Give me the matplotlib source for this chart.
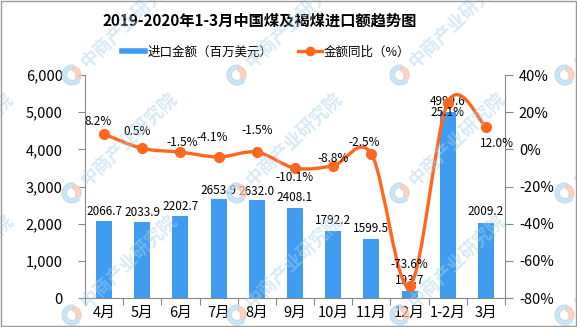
import numpy as np
import matplotlib
matplotlib.use('Agg')
import matplotlib.pyplot as plt
from matplotlib.path import Path
from matplotlib.patches import PathPatch, Wedge, Rectangle
from matplotlib.lines import Line2D
from matplotlib.ticker import FuncFormatter

plt.rcParams['font.family'] = ['Noto Sans CJK SC', 'DejaVu Sans']
plt.rcParams['axes.unicode_minus'] = False

# 数据
months = ['4月', '5月', '6月', '7月', '8月', '9月', '10月', '11月', '12月', '1-2月', '3月']
amount = [2066.7, 2033.9, 2202.7, 2653.9, 2632.0, 2408.1, 1792.2, 1599.5, 193.7, 4999.6, 2009.2]
yoy = [8.2, 0.5, -1.5, -4.1, -1.5, -10.1, -8.8, -2.5, -73.6, 25.1, 12.0]

# 标签偏移（像素）
amount_off = [(0, 3), (0, 3), (0, 3), (0, 2), (0, 2), (0, 4), (0, 4), (0, 4), (0, 4), (0, 4), (0, 5)]
yoy_off = [(-6, 13), (-5, 17), (2, 10), (-6, 19), (0, 22), (0, -9), (0, 7), (-7, 11), (0, 22), (0, -10), (11, -16)]

BLUE = '#3f9cf0'
ORANGE = '#ff671f'
GREY = '#888888'

W, H = 577, 327
fig = plt.figure(figsize=(W / 100, H / 100), dpi=100)
ax = fig.add_axes([85 / W, 1 - 298 / H, 420 / W, 223 / H])
ax2 = ax.twinx()

x = np.arange(len(months))
ax.bar(x, amount, width=0.42, color=BLUE, zorder=2)
ax.set_xlim(-0.5, len(months) - 0.5)
ax.set_ylim(0, 6000)
ax.set_yticks(np.arange(0, 6001, 1000))
ax.yaxis.set_major_formatter(FuncFormatter(lambda v, p: f'{int(v):,}'))
ax.set_xticks(np.arange(-0.5, len(months), 1))
ax.set_xticklabels([])
ax.set_xticks(x, minor=True)
ax.set_xticklabels(months, minor=True)
ax.tick_params(axis='x', which='major', length=5, color=GREY, direction='out')
ax.tick_params(axis='x', which='minor', length=0, pad=6, labelsize=10.5)
ax.tick_params(axis='y', length=5, color=GREY, pad=11, labelsize=10.5)
for s in ['top', 'right']:
    ax.spines[s].set_visible(False)
for s in ['left', 'bottom']:
    ax.spines[s].set_color(GREY)

for i, v in enumerate(amount):
    ax.annotate(f'{v:.1f}', (x[i], v), xytext=amount_off[i], textcoords='offset pixels',
                ha='center', va='bottom', fontsize=8.5, zorder=5)

# 平滑折线（Catmull-Rom 转三次贝塞尔）
pts = np.column_stack([x, yoy]).astype(float)
verts = [pts[0]]
codes = [Path.MOVETO]
for i in range(len(pts) - 1):
    p0 = pts[max(i - 1, 0)]
    p1 = pts[i]
    p2 = pts[i + 1]
    p3 = pts[min(i + 2, len(pts) - 1)]
    c1 = p1 + (p2 - p0) / 6
    c2 = p2 - (p3 - p1) / 6
    verts += [c1, c2, p2]
    codes += [Path.CURVE4] * 3
ax2.add_patch(PathPatch(Path(verts, codes), fill=False, edgecolor=ORANGE, lw=2.4, zorder=3,
                        capstyle='round'))
ax2.plot(x, yoy, ls='none', marker='o', ms=7, color=ORANGE, zorder=4)

ax2.set_ylim(-80, 40)
ax2.set_yticks(np.arange(-80, 41, 20))
ax2.yaxis.set_major_formatter(FuncFormatter(lambda v, p: f'{int(v)}%'))
ax2.tick_params(axis='y', length=6, color=GREY, pad=4, labelsize=10.5)
for s in ['top', 'left', 'bottom']:
    ax2.spines[s].set_visible(False)
ax2.spines['right'].set_color(GREY)

for i, v in enumerate(yoy):
    ax2.annotate(f'{v:.1f}%', (x[i], v), xytext=yoy_off[i], textcoords='offset pixels',
                 ha='center', va='center', fontsize=8.5, zorder=5)

# 标题与图例
fig.text(260 / W, 1 - 21 / H, '2019-2020年1-3月中国煤及褐煤进口额趋势图',
         ha='center', va='center', fontsize=11, fontweight='bold')
handles = [Line2D([], [], color=BLUE, lw=4),
           Line2D([], [], color=ORANGE, lw=2.4, marker='o', ms=6)]
fig.legend(handles, ['进口金额（百万美元）', '金额同比（%）'], loc='center',
           bbox_to_anchor=(266 / W, 1 - 52 / H), ncol=2, frameon=False, fontsize=9,
           handlelength=1.9, handletextpad=0.2, columnspacing=2.0)

# 水印
wm_cols = [-92, 72, 237, 400, 565]
wm_rows = [75, 193, 315]
for cx in wm_cols:
    for cy in wm_rows:
        c = (cx / 100, (H - cy) / 100)
        fig.patches.append(Wedge(c, 0.10, 80, 320, width=0.045, color='#b9d9ee', alpha=0.7,
                                 transform=fig.dpi_scale_trans, zorder=10))
        fig.patches.append(Wedge(c, 0.09, 330, 75, width=0.05, color='#f6c3ad', alpha=0.7,
                                 transform=fig.dpi_scale_trans, zorder=10))
        fig.text((cx + 12) / W, 1 - (cy - 10) / H, '中商产业研究院', rotation=44,
                 rotation_mode='anchor', ha='left', va='center', fontsize=13,
                 fontweight='bold', color='#a9d0ea', alpha=0.45, zorder=10)

# 外框
fig.patches.append(Rectangle((0.5 / W, 1.5 / H), (W - 2) / W, (H - 2.5) / H, fill=False,
                             edgecolor='#999999', lw=1, transform=fig.transFigure, zorder=11))

fig.savefig('out.png', dpi=100)
